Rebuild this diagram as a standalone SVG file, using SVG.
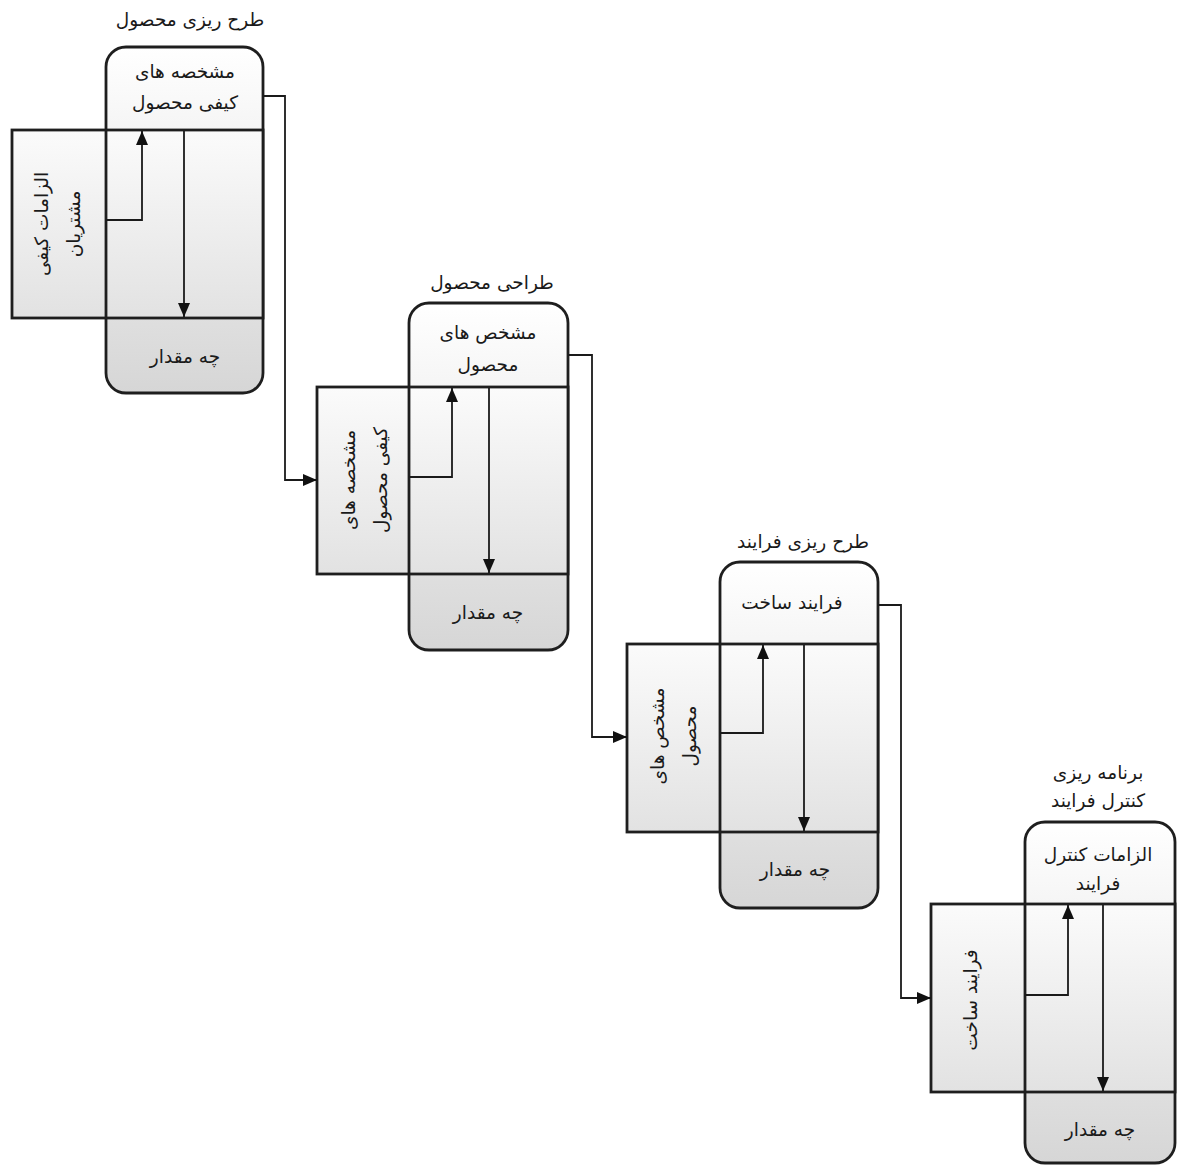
<svg xmlns="http://www.w3.org/2000/svg" width="1178" height="1166" viewBox="0 0 1178 1166">
<style>
  .box { stroke: #1e1e1e; stroke-width: 2.8; }
  .rr { fill: url(#gr); }
  .wr { fill: url(#gw); }
  .edge { fill: none; stroke: #1e1e1e; stroke-width: 2.8; }
  .t { font-family: "DejaVu Sans", "Noto Sans", sans-serif; font-size: 18.5px; fill: #1a1a1a; text-anchor: middle; direction: rtl; }
  .c { fill: none; stroke: #1a1a1a; stroke-width: 1.8; }
</style>
<defs>
  <linearGradient id="gr" x1="0" y1="0" x2="0" y2="1">
    <stop offset="0" stop-color="#ffffff"/>
    <stop offset="1" stop-color="#d6d6d6"/>
  </linearGradient>
  <linearGradient id="gw" x1="0" y1="0" x2="0" y2="1">
    <stop offset="0" stop-color="#fbfbfb"/>
    <stop offset="1" stop-color="#e2e2e2"/>
  </linearGradient>
  <marker id="ah" viewBox="0 0 14 12" refX="14" refY="6" markerWidth="14" markerHeight="12" markerUnits="userSpaceOnUse" orient="auto">
    <path d="M0,0 L14,6 L0,12 Z" fill="#111"/>
  </marker>
</defs>
<rect width="1178" height="1166" fill="#ffffff"/>

<g id="block1">
  <rect class="box rr" x="106" y="47" width="157" height="346" rx="20"/>
  <rect class="box wr" x="12" y="130" width="251" height="188"/>
  <line class="edge" x1="106" y1="130" x2="106" y2="318"/>
  <text class="t" x="190" y="26">طرح ریزی محصول</text>
  <text class="t" x="185" y="78">مشخصه های</text>
  <text class="t" x="185" y="109">کیفی محصول</text>
  <text class="t" x="185" y="363">چه مقدار</text>
  <g transform="translate(58,224) rotate(-90)">
    <text class="t" x="0" y="-10">الزامات کیفی</text>
    <text class="t" x="0" y="22">مشتریان</text>
  </g>
</g>

<g id="block2">
  <rect class="box rr" x="409" y="303" width="159" height="347" rx="20"/>
  <rect class="box wr" x="317" y="387" width="251" height="187"/>
  <line class="edge" x1="409" y1="387" x2="409" y2="574"/>
  <text class="t" x="492" y="289">طراحی محصول</text>
  <text class="t" x="488" y="339">مشخص های</text>
  <text class="t" x="488" y="371">محصول</text>
  <text class="t" x="488" y="619">چه مقدار</text>
  <g transform="translate(365,480) rotate(-90)">
    <text class="t" x="0" y="-10">مشخصه های</text>
    <text class="t" x="0" y="22">کیفی محصول</text>
  </g>
</g>

<g id="block3">
  <rect class="box rr" x="720" y="562" width="158" height="346" rx="20"/>
  <rect class="box wr" x="627" y="644" width="251" height="188"/>
  <line class="edge" x1="720" y1="644" x2="720" y2="832"/>
  <text class="t" x="803" y="548">طرح ریزی فرایند</text>
  <text class="t" x="792" y="609">فرایند ساخت</text>
  <text class="t" x="795" y="876">چه مقدار</text>
  <g transform="translate(674,736) rotate(-90)">
    <text class="t" x="0" y="-10">مشخص های</text>
    <text class="t" x="0" y="22">محصول</text>
  </g>
</g>

<g id="block4">
  <rect class="box rr" x="1025" y="822" width="150" height="341" rx="20"/>
  <rect class="box wr" x="931" y="904" width="244" height="188"/>
  <line class="edge" x1="1025" y1="904" x2="1025" y2="1092"/>
  <text class="t" x="1098" y="779">برنامه ریزی</text>
  <text class="t" x="1098" y="807">کنترل فرایند</text>
  <text class="t" x="1098" y="861">الزامات کنترل</text>
  <text class="t" x="1098" y="890">فرایند</text>
  <text class="t" x="1100" y="1136">چه مقدار</text>
  <g transform="translate(971,1000) rotate(-90)">
    <text class="t" x="0" y="6">فرایند ساخت</text>
  </g>
</g>

<g id="connectors">
  <polyline class="c" points="263,96 285,96 285,480 317,480" marker-end="url(#ah)"/>
  <polyline class="c" points="568,355 592,355 592,737 627,737" marker-end="url(#ah)"/>
  <polyline class="c" points="878,605 901,605 901,998 931,998" marker-end="url(#ah)"/>

  <polyline class="c" points="106,220 142,220 142,131" marker-end="url(#ah)"/>
  <line class="c" x1="184" y1="131" x2="184" y2="317" marker-end="url(#ah)"/>

  <polyline class="c" points="409,477 452,477 452,388" marker-end="url(#ah)"/>
  <line class="c" x1="489" y1="388" x2="489" y2="573" marker-end="url(#ah)"/>

  <polyline class="c" points="720,733 763,733 763,645" marker-end="url(#ah)"/>
  <line class="c" x1="804" y1="645" x2="804" y2="831" marker-end="url(#ah)"/>

  <polyline class="c" points="1025,995 1068,995 1068,905" marker-end="url(#ah)"/>
  <line class="c" x1="1103" y1="905" x2="1103" y2="1091" marker-end="url(#ah)"/>
</g>
</svg>
